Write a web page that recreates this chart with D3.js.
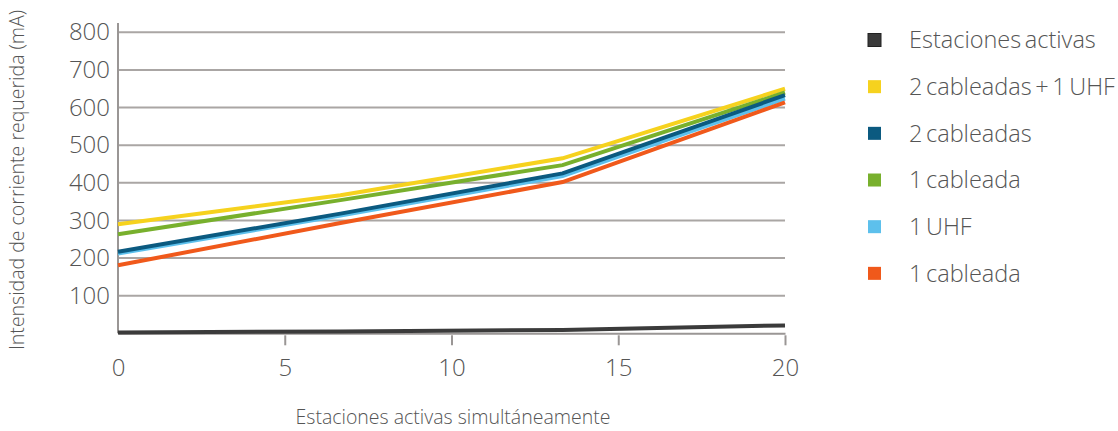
<!DOCTYPE html>
<html>
<head>
<meta charset="utf-8">
<script src="https://cdn.jsdelivr.net/npm/d3@7"></script>
<style>
    body { margin: 0; background: #fff; }
    svg { font-family: "Open Sans", "Noto Sans", sans-serif; font-weight: 300; }
</style>
</head>
<body>
<svg width="1118" height="431"></svg>
<script>
// estaciones activas simultaneamente (eje x)
var stations = [0, 6.67, 13.33, 20];
var xTicks = [0, 5, 10, 15, 20];
var yTicks = [100, 200, 300, 400, 500, 600, 700, 800];

// intensidad en mA por serie
var activas = [2, 5, 9, 21];
var dosCableadasUhf = [290, 367, 465, 650];
var dosCableadas = [217, 318, 425, 633];
var unaCableada = [263, 354, 447, 640];
var unaUhf = [212, 313, 418, 624];
var unaCableadaB = [181, 293, 402, 614];

var seriesNames = ["Estaciones activas", "2 cableadas + 1 UHF", "2 cableadas", "1 cableada", "1 UHF", "1 cableada"];
var seriesColors = ["#3b3b3b", "#f6d21e", "#0b5a80", "#78b02d", "#5dc0ec", "#f0591b"];
var seriesValues = [activas, dosCableadasUhf, dosCableadas, unaCableada, unaUhf, unaCableadaB];

var svg = d3.select("svg");

var x = d3.scaleLinear().domain([0, 20]).range([118, 785]);
var y = d3.scaleLinear().domain([0, 800]).range([333.3, 32.3]);

var textColor = "#555";

// gridlines
svg.append("g")
    .attr("class", "grid")
    .selectAll("line")
    .data(yTicks)
    .enter().append("line")
    .attr("x1", x(0))
    .attr("x2", x(20))
    .attr("y1", function(d) { return y(d); })
    .attr("y2", function(d) { return y(d); })
    .attr("stroke", "#aaa6a4")
    .attr("stroke-width", 2);

// y axis (labels only + vertical rule)
var yAxis = svg.append("g")
    .attr("transform", "translate(" + x(0) + ",0)")
    .call(d3.axisLeft(y).tickValues(yTicks).tickSize(0).tickPadding(8));
yAxis.select(".domain").remove();
svg.append("line")
    .attr("x1", x(0)).attr("x2", x(0))
    .attr("y1", 23).attr("y2", y(0))
    .attr("stroke", "#9a9695")
    .attr("stroke-width", 2);

// x axis
var xAxis = svg.append("g")
    .attr("transform", "translate(0," + y(0) + ")")
    .call(d3.axisBottom(x).tickValues(xTicks).tickSize(12).tickPadding(14).tickSizeOuter(0));
xAxis.select(".domain").attr("stroke", "#9a9695").attr("stroke-width", 2);
xAxis.selectAll(".tick line").attr("stroke", "#9a9695").attr("stroke-width", 2)
    .attr("y1", 2);
xAxis.selectAll(".tick").filter(function(d) { return d === 0; }).select("line").remove();

svg.selectAll(".tick text")
    .attr("fill", textColor)
    .style("font-size", "24px")
    .style("font-family", "\"Open Sans\", sans-serif")
    .style("font-weight", 300);

// lines
var line = d3.line()
    .x(function(d, i) { return x(stations[i]); })
    .y(function(d) { return y(d); });

var drawOrder = [0, 1, 3, 4, 2, 5];
svg.append("g")
    .attr("class", "series")
    .selectAll("path")
    .data(drawOrder)
    .enter().append("path")
    .attr("d", function(i) { return line(seriesValues[i]); })
    .attr("fill", "none")
    .attr("stroke", function(i) { return seriesColors[i]; })
    .attr("stroke-width", 4);

// axis titles
svg.append("text")
    .attr("transform", "translate(24,180) rotate(-90)")
    .attr("text-anchor", "middle")
    .attr("fill", textColor)
    .style("font-size", "19.5px")
    .text("Intensidad de corriente requerida (mA)");

svg.append("text")
    .attr("x", 453)
    .attr("y", 424)
    .attr("text-anchor", "middle")
    .attr("fill", textColor)
    .style("font-size", "19.5px")
    .text("Estaciones activas simultáneamente");

// legend
var legend = svg.append("g")
    .attr("class", "legend")
    .selectAll("g")
    .data(seriesNames)
    .enter().append("g")
    .attr("transform", function(d, i) { return "translate(868," + (40 + i * 46.67) + ")"; });

legend.append("rect")
    .attr("x", 0)
    .attr("y", -6.5)
    .attr("width", 13)
    .attr("height", 13)
    .attr("fill", function(d, i) { return seriesColors[i]; })
    .attr("stroke", function(d, i) { return i === 0 ? "#222" : "none"; })
    .attr("stroke-width", 1);

legend.append("text")
    .attr("x", 41)
    .attr("dy", "0.35em")
    .attr("fill", textColor)
    .style("font-size", "23.5px")
    .style("word-spacing", "-2.5px")
    .text(function(d) { return d; });
</script>
</body>
</html>
